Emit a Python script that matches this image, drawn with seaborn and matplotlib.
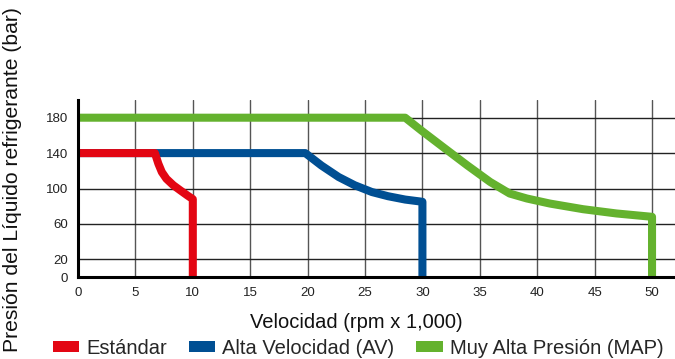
import matplotlib
matplotlib.use("Agg")
import matplotlib.pyplot as plt
from matplotlib.patches import Patch
import seaborn as sns
import pandas as pd

# Data
std_x = [0, 6.7, 7.0, 7.3, 7.7, 8.3, 8.9, 9.5, 10.0, 10.0]
std_y = [140, 140, 128, 118.6, 111, 103.7, 98, 92.4, 88, 0]
av_x = [0, 19.8, 21.2, 22.7, 24.1, 25.6, 27.0, 28.5, 30.0, 30.0]
av_y = [140, 140, 126, 113, 103.7, 96, 91.3, 87.5, 85, 0]
map_x = [0, 28.5, 29.9, 31.8, 33.9, 35.9, 37.6, 39.1, 41.1, 44.0, 46.9, 50.0, 50.0]
map_y = [180, 180, 165.6, 146.8, 126.2, 107.4, 94.3, 88.7, 83, 76.6, 71.8, 68, 0]

series_names = ["Estándar", "Alta Velocidad (AV)", "Muy Alta Presión (MAP)"]
series_colors = ["#e30613", "#004f93", "#64b22e"]
x_ticks = [0, 5, 10, 15, 20, 25, 30, 35, 40, 45, 50]
y_ticks = [0, 20, 60, 100, 140, 180]

df = pd.concat([
    pd.DataFrame({"x": std_x, "y": std_y, "serie": series_names[0]}),
    pd.DataFrame({"x": av_x, "y": av_y, "serie": series_names[1]}),
    pd.DataFrame({"x": map_x, "y": map_y, "serie": series_names[2]}),
], ignore_index=True)

sns.set_theme(style="white")
plt.rcParams["font.family"] = ["Liberation Sans", "DejaVu Sans"]

W, H = 675, 359
fig = plt.figure(figsize=(W / 100, H / 100), dpi=100)
ax = fig.add_axes([78 / W, 82 / H, (W - 78) / W, 177 / H])

lw = 5.8
# draw green, blue, red so red overlays blue
for name, col in [(series_names[2], series_colors[2]),
                  (series_names[1], series_colors[1]),
                  (series_names[0], series_colors[0])]:
    sub = df[df["serie"] == name]
    sns.lineplot(data=sub, x="x", y="y", sort=False, estimator=None,
                 color=col, linewidth=lw, ax=ax, legend=False,
                 solid_capstyle="butt", solid_joinstyle="round", zorder=3)

ax.set_xlim(0, 52)
ax.set_ylim(0, 200)
ax.set_xticks(x_ticks)
ax.set_yticks(y_ticks)
ax.tick_params(axis="both", length=0, labelsize=9.5, colors="#222222")
ax.tick_params(axis="x", pad=7.5)
ax.tick_params(axis="y", pad=7)

# grid
for xv in x_ticks[1:]:
    ax.axvline(xv, color="#555555", linewidth=1.0, zorder=1)
for yv in y_ticks[1:]:
    ax.axhline(yv, color="#222222", linewidth=1.0, zorder=1)

for s in ["top", "right"]:
    ax.spines[s].set_visible(False)
for s in ["left", "bottom"]:
    ax.spines[s].set_color("black")
    ax.spines[s].set_linewidth(2.2)
    ax.spines[s].set_zorder(4)

ax.set_xlabel("Velocidad (rpm x 1,000)", fontsize=14.5, color="#111111")
ax.xaxis.set_label_coords((356 - 78) / (W - 78), (277 - 322) / 177)
ax.xaxis.label.set_verticalalignment("center")
ax.set_ylabel("")
fig.text(13 / W, 0.5, "Presión del Líquido refrigerante (bar)", rotation=90,
         ha="center", va="center", fontsize=15.2, color="#111111")

handles = [Patch(facecolor=c, edgecolor="none") for c in series_colors]
fig.legend(handles, series_names, loc="center", bbox_to_anchor=(358 / W, 1 - 348 / H),
           ncol=3, frameon=False, fontsize=14.5, handlelength=1.3, handleheight=0.5,
           handletextpad=0.35, columnspacing=1.1, borderpad=0)

fig.savefig("out.png", dpi=100)
